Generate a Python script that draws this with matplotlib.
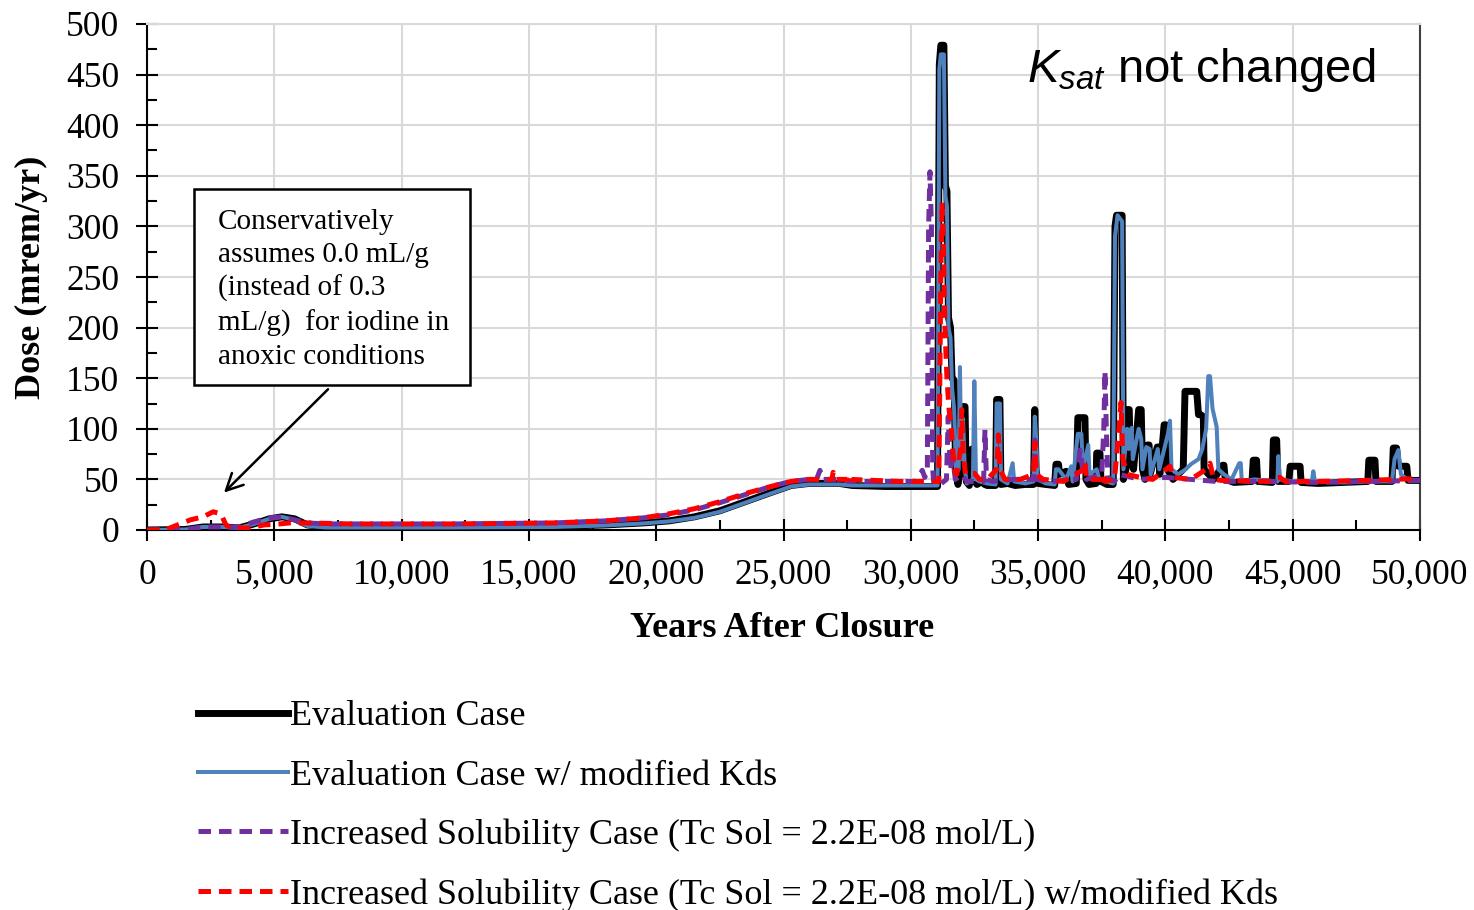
import matplotlib
matplotlib.use("Agg")
import matplotlib.pyplot as plt
from matplotlib.patches import Rectangle
from matplotlib.ticker import MultipleLocator, FuncFormatter

plt.rcParams["font.family"] = ["Liberation Serif", "DejaVu Serif"]
plt.rcParams["mathtext.fontset"] = "custom"
plt.rcParams["mathtext.it"] = "Liberation Sans:italic"
plt.rcParams["mathtext.rm"] = "Liberation Sans"

# ---- data (years after closure, dose mrem/yr) ----
eval_yr = [0, 1500, 2200, 3000, 3600, 4200, 4800, 5300, 5800, 6300, 7000, 12000, 16000, 18000,
           19500, 20500, 21500, 22500, 23500, 24500, 25300, 26000, 27200, 27700, 29000, 31050,
           31120, 31180, 31300, 31360, 31420, 31480, 31560, 31620, 31700, 31760, 31850, 31950,
           32000, 32130, 32180, 32300, 32400, 32450, 32600, 32800, 32900, 33000, 33330, 33370,
           33500, 33540, 33800, 34100, 34500, 34820, 34870, 34920, 35000, 35300, 35650, 35700,
           35800, 35850, 36100, 36200, 36500, 36560, 36840, 36880, 37000, 37280, 37300, 37430,
           37470, 37700, 37950, 38020, 38080, 38300, 38350, 38450, 38520, 38580, 38620, 38750,
           38950, 39050, 39100, 39200, 39300, 39360, 39400, 39680, 39740, 39780, 39950, 40020,
           40080, 40300, 40700, 40770, 41230, 41300, 41380, 41490, 41520, 41700, 41900, 42250,
           42300, 42350, 42700, 43400, 43450, 43580, 43620, 44200, 44240, 44370, 44420, 44850,
           44900, 45290, 45330, 46000, 47000, 47950, 47990, 48230, 48270, 48900, 48950, 49080,
           49150, 49480, 49530, 50000]
eval_dose = [0, 0.5, 3, 3, 2, 6, 11, 13, 11, 5, 3, 3, 3.5, 5,
             7, 9, 13, 19, 28, 37, 44, 46, 46, 44, 43, 43,
             460, 479, 479, 340, 335, 210, 200, 150, 148, 60, 45, 60,
             122, 122, 48, 44, 80, 50, 45, 48, 45, 44, 44, 129,
             129, 45, 46, 44, 45, 45, 119, 60, 46, 45, 44, 65,
             65, 55, 58, 45, 46, 111, 111, 50, 45, 46, 76, 76,
             48, 45, 45, 300, 311, 311, 50, 60, 119, 119, 70, 60,
             119, 119, 60, 50, 84, 84, 55, 82, 82, 55, 104, 104,
             60, 50, 60, 137, 137, 114, 114, 112, 60, 55, 50, 64,
             64, 50, 47, 48, 69, 69, 48, 47, 89, 89, 48, 48,
             63, 63, 47, 46, 47, 48, 69, 69, 48, 48, 81, 81,
             63, 63, 49, 49]

kd_yr = [0, 1500, 2200, 3000, 3600, 4200, 4800, 5300, 5800, 6300, 7000, 12000, 16000, 18000,
         19500, 20500, 21500, 22500, 23500, 24500, 25300, 26000, 27200, 27700, 31050, 31120,
         31180, 31300, 31360, 31420, 31480, 31560, 31620, 31700, 31780, 31880, 31930, 31980,
         32050, 32120, 32200, 32440, 32495, 32560, 32700, 33000, 33330, 33370, 33500, 33540,
         33800, 34000, 34060, 34500, 34820, 34870, 34930, 34980, 35300, 35650, 35700, 35800,
         36100, 36300, 36360, 36560, 36700, 36760, 36970, 37020, 37300, 37400, 37950, 38020,
         38120, 38300, 38350, 38500, 38560, 38675, 38720, 38950, 39050, 39100, 39250, 39380,
         39420, 39700, 39760, 40100, 40180, 40240, 40500, 40800, 41000, 41300, 41450, 41600,
         41685, 41752, 41850, 42013, 42080, 42300, 42600, 42900, 42960, 43000, 43500, 44400,
         44435, 44500, 45000, 45750, 45810, 45870, 47000, 48000, 48900, 49000, 49150, 49250,
         49500, 50000]
kd_dose = [0, 0.5, 3, 3, 2, 6, 11, 13, 10, 4, 2.5, 2.5, 3, 4.5,
           6.5, 8.5, 12, 18, 27, 36, 43, 45, 45, 44, 44, 455,
           470, 470, 330, 320, 200, 190, 140, 120, 55, 60, 161, 70,
           110, 60, 46, 50, 147, 50, 48, 46, 45, 125, 125, 50,
           46, 66, 48, 46, 48, 112, 89, 50, 46, 45, 60, 60,
           50, 63, 48, 95, 95, 60, 84, 55, 60, 50, 46, 290,
           311, 305, 60, 100, 80, 101, 70, 100, 90, 60, 82, 80,
           55, 80, 60, 95, 108, 60, 55, 60, 65, 70, 80, 100,
           152, 152, 120, 102, 60, 55, 50, 66, 66, 48, 50, 48,
           73, 50, 48, 48, 58, 48, 47, 48, 48, 70, 79, 55,
           50, 49]

sol_yr = [0, 1500, 2200, 3000, 3600, 4200, 4800, 5300, 5800, 6300, 7000, 12000, 16000, 18000,
          19500, 20500, 21500, 22500, 23500, 24500, 25300, 26000, 26300, 26430, 26550, 27200,
          27600, 29500, 30200, 30450, 30550, 30650, 30700, 30754, 30810, 30860, 30900, 31000,
          31200, 31400, 31470, 31550, 31650, 31750, 32000, 32200, 32860, 32913, 32970, 33200,
          34000, 34820, 34877, 34930, 35500, 36500, 36650, 36750, 36900, 37500, 37580, 37627,
          37680, 37740, 38000, 38200, 39000, 40000, 41000, 42000, 44000, 46000, 48000, 50000]
sol_dose = [0, 0.5, 3, 3, 3, 8, 12, 13, 10, 7, 6, 6, 7, 9,
            12, 15, 20, 27, 35, 43, 48, 50, 50, 59, 50, 50,
            48, 48, 48, 59, 52, 60, 300, 354, 300, 60, 47, 45,
            46, 50, 112, 60, 70, 50, 55, 48, 48, 99, 50, 48,
            50, 50, 89, 50, 48, 50, 79, 60, 50, 55, 100, 157,
            100, 52, 48, 55, 50, 52, 50, 48, 48, 47, 48, 49]

solkd_yr = [0, 700, 1200, 1700, 2200, 2600, 2900, 3100, 3300, 4000, 4600, 5200, 5600, 6300,
            8000, 12000, 16000, 18000, 19500, 20500, 21500, 22500, 23500, 24500, 25300, 26000,
            26900, 26950, 27050, 27500, 27540, 27650, 29500, 31100, 31180, 31230, 31280, 31340,
            31420, 31500, 31600, 31700, 31800, 31950, 32000, 32050, 32150, 32500, 32700, 33000,
            33380, 33440, 33500, 33700, 34300, 34820, 34877, 34930, 35200, 36000, 36800, 36840,
            36900, 37500, 37560, 37620, 38000, 38180, 38255, 38330, 38500, 39000, 39500, 40180,
            40300, 41000, 41600, 41752, 41900, 42200, 44000, 44500, 44700, 46000, 48000, 50000]
solkd_dose = [0, 0, 5, 10, 13, 18, 16, 5, 2, 2, 5, 6, 7, 7,
              6, 6, 7, 9, 12, 16, 21, 28, 36, 43, 48, 50,
              50, 57, 50, 50, 55, 50, 48, 48, 250, 324, 280, 200,
              150, 120, 99, 60, 55, 80, 119, 80, 55, 56, 50, 50,
              60, 94, 60, 50, 50, 55, 86, 55, 50, 48, 60, 68,
              50, 50, 56, 48, 50, 100, 126, 70, 55, 52, 50, 63,
              52, 50, 60, 66, 50, 49, 48, 52, 48, 48, 49, 51]

labels = [
    "Evaluation Case",
    "Evaluation Case w/ modified Kds",
    "Increased Solubility Case (Tc Sol = 2.2E-08 mol/L)",
    "Increased Solubility Case (Tc Sol = 2.2E-08 mol/L) w/modified Kds",
]
x_ticks = list(range(0, 50001, 5000))
y_ticks = list(range(0, 501, 50))

# ---- figure ----
fig = plt.figure(figsize=(14.74, 9.10), dpi=100)
ax = fig.add_axes([147 / 1474, 1 - 530 / 910, 1273 / 1474, 506 / 910])

ax.plot(eval_yr, eval_dose, color="black", lw=5, label=labels[0], zorder=3)
ax.plot(kd_yr, kd_dose, color="#4F81BD", lw=2.9, label=labels[1], zorder=4)
ax.plot(sol_yr, sol_dose, color="#7030A0", lw=3.6, ls=(0, (2.5, 1.6)), label=labels[2], zorder=5)
ax.plot(solkd_yr, solkd_dose, color="#FF0000", lw=3.6, ls=(0, (2.5, 1.6)), label=labels[3], zorder=6)

ax.set_xlim(0, 50000)
ax.set_ylim(0, 500)
ax.set_xticks(x_ticks)
ax.set_yticks(y_ticks)
ax.xaxis.set_minor_locator(MultipleLocator(2500))
ax.yaxis.set_minor_locator(MultipleLocator(25))
ax.xaxis.set_major_formatter(FuncFormatter(lambda v, p: f"{int(v):,}"))
ax.grid(True, which="major", color="#D9D9D9", lw=1.5, zorder=0)
ax.set_axisbelow(True)

ax.tick_params(which="major", direction="inout", length=16, width=1.5, labelsize=25.5)
ax.tick_params(which="minor", direction="in", length=7, width=1.5)
ax.tick_params(axis="y", which="major", pad=12)
ax.tick_params(axis="x", which="major", pad=13)
for s in ("left", "bottom"):
    ax.spines[s].set_linewidth(1.5)
ax.spines["top"].set_color("#D9D9D9")
ax.spines["top"].set_linewidth(1.5)
ax.spines["right"].set_color("#404040")
ax.spines["right"].set_linewidth(1.5)

ax.set_xlabel("Years After Closure", fontsize=26, fontweight="bold")
ax.set_ylabel("Dose (mrem/yr)", fontsize=26, fontweight="bold")
ax.xaxis.set_label_coords(0.4988, -0.162)
ax.yaxis.set_label_coords(-0.078, 0.5)

# annotation box and arrow
ax.add_patch(Rectangle((1846, 143), 10841, 194, fill=True, facecolor="white",
                       edgecolor="black", lw=1.8, zorder=7))
ax.text(2790, 317, "Conservatively\nassumes 0.0 mL/g\n(instead of 0.3\nmL/g)  for iodine in\nanoxic conditions",
        fontsize=21, va="top", ha="left", linespacing=1.34, zorder=8)
ax.annotate("", xy=(2946, 35), xytext=(7188, 141),
            arrowprops=dict(arrowstyle="->", color="black", lw=1.8, mutation_scale=30), zorder=8)

ax.text(0.9654, 0.885, r"$K_{sat}$ not changed", transform=ax.transAxes, ha="right",
        va="baseline", fontsize=34, family="Liberation Sans")

fig.legend(loc="upper left", bbox_to_anchor=(198 / 1474, 1 - 700 / 910), frameon=False,
           fontsize=26, handlelength=2.5, handletextpad=0.05, labelspacing=0.72,
           borderpad=0, borderaxespad=0)

fig.savefig("out.png", dpi=100)
